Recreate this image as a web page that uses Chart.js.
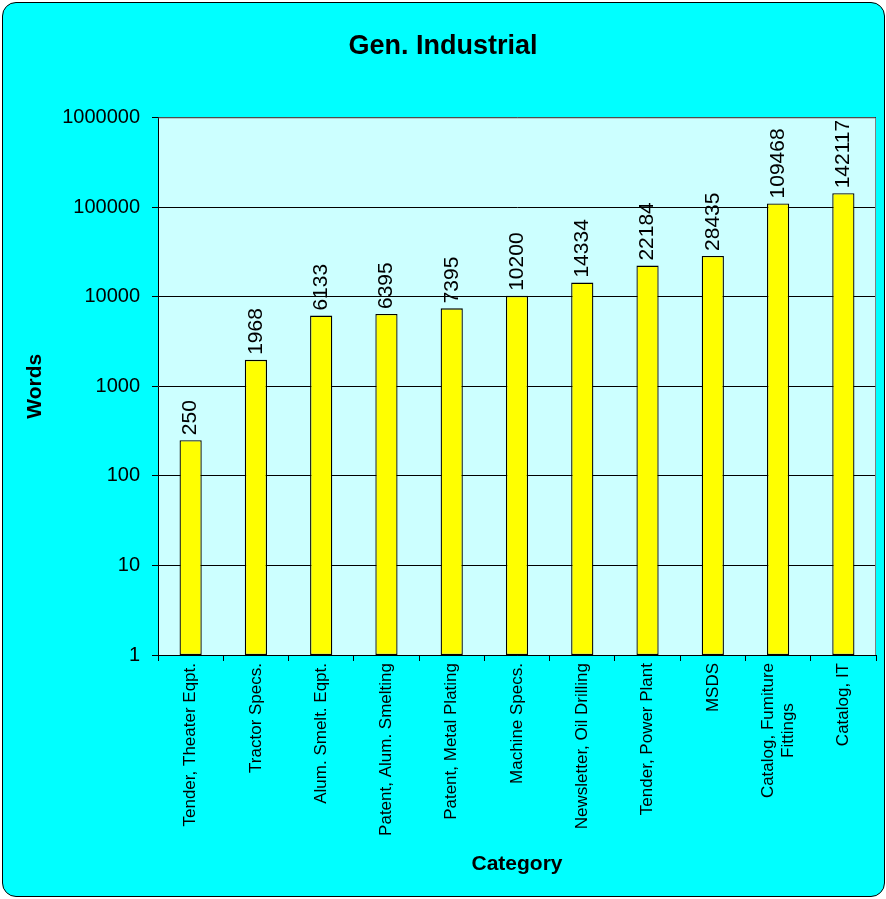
<!DOCTYPE html>
<html>
<head>
<meta charset="utf-8">
<script src="https://cdn.jsdelivr.net/npm/chart.js@4"></script>
<style>
  body { margin: 0; background: #fff; }
  #wrap { position: relative; width: 886px; height: 899px; }
  #frame {
    position: absolute; left: 2px; top: 2px; width: 883px; height: 895px;
    box-sizing: border-box; border: 1.5px solid #000; border-radius: 14px;
    background: #00FFFF;
  }
  canvas { position: absolute; left: 0; top: 0; }
</style>
</head>
<body>
<div id="wrap">
  <div id="frame"></div>
  <canvas id="wordsChart" width="886" height="899"></canvas>
</div>
<script>
const categories = [
    "Tender, Theater Eqpt.",
    "Tractor Specs.",
    "Alum. Smelt. Eqpt.",
    "Patent, Alum. Smelting",
    "Patent, Metal Plating",
    "Machine Specs.",
    "Newsletter, Oil Drilling",
    "Tender, Power Plant",
    "MSDS",
    ["Catalog, Fumiture", "Fittings"],
    "Catalog, IT"
];
const words = [250, 1968, 6133, 6395, 7395, 10200, 14334, 22184, 28435, 109468, 142117];
const yTicks = [1, 10, 100, 1000, 10000, 100000, 1000000];

const FONT = "'Liberation Sans', Arial, sans-serif";

// light plot background, grey top/right frame
const plotArea = {
    id: "plotArea",
    beforeDraw(chart) {
        const { ctx, chartArea: a } = chart;
        ctx.save();
        ctx.fillStyle = "#CCFFFF";
        ctx.fillRect(a.left, a.top, a.right - a.left, a.bottom - a.top);
        ctx.restore();
    },
    afterDraw(chart) {
        const { ctx, chartArea: a } = chart;
        ctx.save();
        ctx.strokeStyle = "#808080";
        ctx.lineWidth = 1;
        ctx.beginPath();
        ctx.moveTo(a.left + 0.5, a.top + 0.5);
        ctx.lineTo(a.right - 0.5, a.top + 0.5);
        ctx.lineTo(a.right - 0.5, a.bottom);
        ctx.stroke();
        ctx.restore();
    }
};

// vertical value labels above bars
const barValues = {
    id: "barValues",
    afterDatasetsDraw(chart) {
        const { ctx } = chart;
        const meta = chart.getDatasetMeta(0);
        ctx.save();
        ctx.font = "21px " + FONT;
        ctx.fillStyle = "#000";
        ctx.textAlign = "left";
        ctx.textBaseline = "middle";
        meta.data.forEach((bar, i) => {
            ctx.save();
            ctx.translate(bar.x, bar.y - 5);
            ctx.rotate(-Math.PI / 2);
            ctx.fillText(String(words[i]), 0, 0);
            ctx.restore();
        });
        ctx.restore();
    }
};

// rotated category labels, centred when wrapped
const catLabels = {
    id: "catLabels",
    afterDraw(chart) {
        const { ctx } = chart;
        const xs = chart.scales.x;
        const lh = 20;
        ctx.save();
        ctx.font = "17px " + FONT;
        ctx.fillStyle = "#000";
        ctx.textBaseline = "middle";
        ctx.textAlign = "center";
        categories.forEach((c, i) => {
            const lines = Array.isArray(c) ? c : [c];
            const w = Math.max(...lines.map(l => ctx.measureText(l).width));
            ctx.save();
            ctx.translate(xs.getPixelForValue(i), xs.top + 8);
            ctx.rotate(-Math.PI / 2);
            lines.forEach((l, j) => {
                ctx.fillText(l, -w / 2, (j - (lines.length - 1) / 2) * lh);
            });
            ctx.restore();
        });
        ctx.restore();
    }
};

new Chart(document.getElementById("wordsChart"), {
    type: "bar",
    data: {
        labels: categories,
        datasets: [{
            label: "Words",
            data: words,
            backgroundColor: "#FFFF00",
            borderColor: "#000",
            borderWidth: 1.3,
            borderSkipped: false,
            categoryPercentage: 1,
            barPercentage: 0.34
        }]
    },
    options: {
        responsive: false,
        animation: false,
        layout: { padding: { left: 10, right: 10, top: 0, bottom: 0 } },
        plugins: {
            legend: { display: false },
            tooltip: { enabled: false },
            title: {
                display: true,
                text: "Gen. Industrial",
                color: "#000",
                font: { family: FONT, size: 27, weight: "bold" },
                padding: { top: 30, bottom: 55 }
            }
        },
        scales: {
            x: {
                grid: {
                    offset: true,
                    drawOnChartArea: false,
                    drawTicks: true,
                    tickLength: 6,
                    color: "#000"
                },
                border: { color: "#000", width: 1 },
                ticks: { display: false },
                title: {
                    display: true,
                    text: "Category",
                    color: "#000",
                    font: { family: FONT, size: 21, weight: "bold" },
                    padding: { top: 0, bottom: 22 }
                },
                afterFit: (scale) => { scale.height = 244; }
            },
            y: {
                type: "logarithmic",
                min: 1,
                max: 1000000,
                afterBuildTicks: (scale) => {
                    scale.ticks = yTicks.map(v => ({ value: v }));
                },
                grid: { color: "#000", tickLength: 6 },
                border: { color: "#000", width: 1 },
                ticks: {
                    color: "#000",
                    font: { family: FONT, size: 20 },
                    padding: 12,
                    callback: (v) => String(v)
                },
                title: {
                    display: true,
                    text: "Words",
                    color: "#000",
                    font: { family: FONT, size: 21, weight: "bold" },
                    padding: { top: 13, bottom: 0 }
                },
                afterFit: (scale) => { scale.width = 148; }
            }
        }
    },
    plugins: [plotArea, barValues, catLabels]
});
</script>
</body>
</html>
